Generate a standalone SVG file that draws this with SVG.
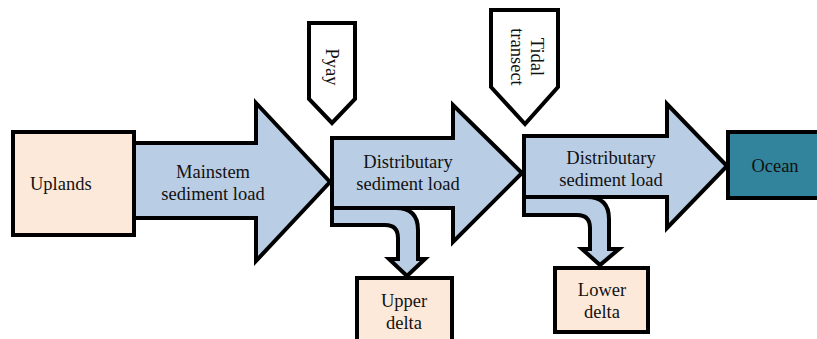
<svg xmlns="http://www.w3.org/2000/svg" width="817" height="339" viewBox="0 0 817 339">
  <style>
    .box { stroke: #000; stroke-width: 4; }
    .land { fill: #fde9d9; }
    .sea { fill: #31849b; }
    .flow { fill: #b9cde5; stroke: #000; stroke-width: 4; stroke-linejoin: miter; }
    .tag { fill: #fff; stroke: #000; stroke-width: 4; stroke-linejoin: miter; }
    .c { text-anchor: middle; }
  </style>

  <g font-family="'Liberation Serif', 'DejaVu Serif', serif" font-size="18.5" fill="#111">
  <!-- sediment flows -->
  <g id="connectors">
    <!-- branches to the deltas, drawn under the main flows -->
    <path class="flow" d="M332,208 L396,208 Q418,208 418,230 L418,259 L425,259 L407,276 L389,259 L398,259 L398,238 Q398,225 385,225 L332,225 Z"/>
    <path class="flow" d="M524,197 L587,197 Q609,197 609,219 L609,249 L619,249 L600,265 L582,249 L590,249 L590,228 Q590,215 577,215 L524,215 Z"/>
    <g id="mainstem-load">
      <path class="flow" d="M134,143 L256,143 L256,103 L330,182 L256,261 L256,218 L134,218 Z"/>
      <text class="c" x="213" y="178">Mainstem</text>
      <text class="c" x="213" y="200">sediment load</text>
    </g>
    <g id="distributary-load-1">
      <path class="flow" d="M332,138 L453,138 L453,105 L522,173 L453,242 L453,208 L332,208 Z"/>
      <text class="c" x="408" y="168">Distributary</text>
      <text class="c" x="408" y="190">sediment load</text>
    </g>
    <g id="distributary-load-2">
      <path class="flow" d="M524,136 L667,136 L667,104 L727,166 L667,228 L667,197 L524,197 Z"/>
      <text class="c" x="611" y="164">Distributary</text>
      <text class="c" x="611" y="186">sediment load</text>
    </g>
  </g>

  <g id="uplands">
    <rect class="box land" x="13" y="132" width="121" height="103"/>
    <text x="30" y="190">Uplands</text>
  </g>

  <g id="ocean">
    <rect class="box sea" x="728" y="132" width="110" height="66"/>
    <text class="c" x="775" y="172">Ocean</text>
  </g>

  <g id="upper-delta">
    <rect class="box land" x="357" y="278" width="95" height="70"/>
    <text class="c" x="404" y="307">Upper</text>
    <text class="c" x="404" y="329">delta</text>
  </g>

  <g id="lower-delta">
    <rect class="box land" x="555" y="268" width="93" height="64"/>
    <text class="c" x="602" y="296">Lower</text>
    <text class="c" x="602" y="318">delta</text>
  </g>

  <!-- gauging stations -->
  <g id="pyay">
    <path class="tag" d="M309,23 L355,23 L355,99 L332,123 L309,99 Z"/>
    <text class="c" transform="translate(326,67) rotate(90)">Pyay</text>
  </g>

  <g id="tidal-transect">
    <path class="tag" d="M491,10 L558,10 L558,87 L525,124 L491,87 Z"/>
    <text class="c" transform="translate(531,57) rotate(90)">Tidal</text>
    <text class="c" transform="translate(511,57) rotate(90)">transect</text>
  </g>
  </g>
</svg>
